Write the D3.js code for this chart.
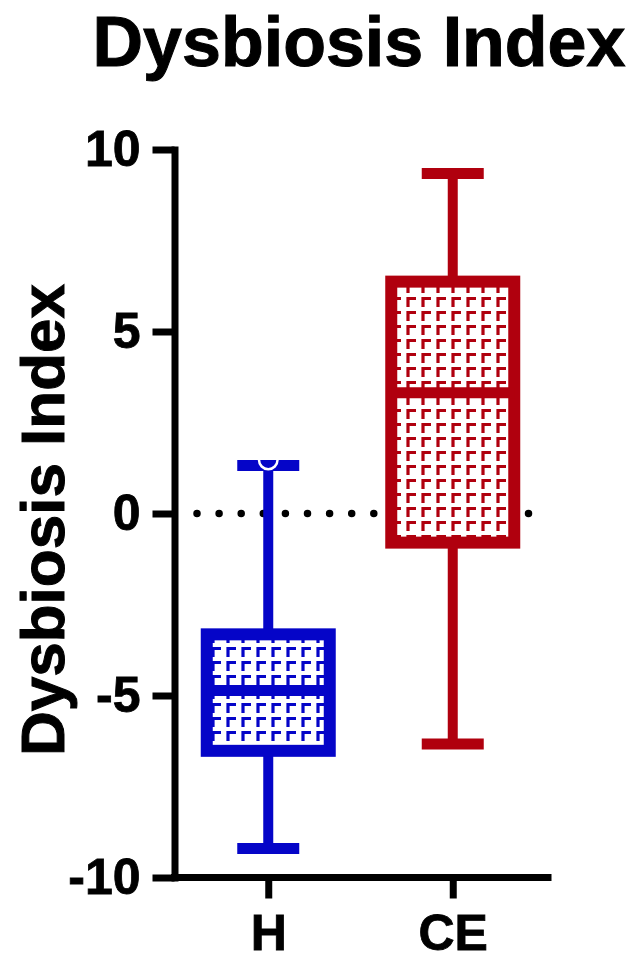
<!DOCTYPE html>
<html>
<head>
<meta charset="utf-8">
<script src="https://cdn.jsdelivr.net/npm/d3@7"></script>
<style>
  body { margin: 0; background: #fff; }
  text { font-family: "Liberation Sans", Arial, sans-serif; font-weight: bold; fill: #000; }
</style>
</head>
<body>
<div id="container"></div>
<script>
var w = 641,
  h = 961;

// data
var groups = ["H", "CE"];
var mins = [-9.2, -6.33];
var q1s = [-6.52, -0.8];
var medians = [-4.86, 3.32];
var q3s = [-3.32, 6.37];
var maxs = [1.32, 9.34];
var colors = ["#0505c8", "#b0000e"];
var yTicks = [-10, -5, 0, 5, 10];

var svg = d3.select("#container").append("svg")
  .attr("width", w)
  .attr("height", h);

var y = d3.scaleLinear()
  .domain([-10, 10])
  .range([877.5, 149.5]);

var x = d3.scalePoint()
  .domain(groups)
  .range([176, 545])
  .padding(0.5);

// hatch patterns (little corner marks)
var defs = svg.append("defs");
colors.forEach(function (c, i) {
  var p = defs.append("pattern")
    .attr("id", "hatch" + i)
    .attr("patternUnits", "userSpaceOnUse")
    .attr("width", 15)
    .attr("height", 14);
  p.append("rect").attr("width", 15).attr("height", 14).attr("fill", "#fff");
  p.append("path")
    .attr("d", "M3,13V4.5H11")
    .attr("fill", "none")
    .attr("stroke", c)
    .attr("stroke-width", 3.2);
});

// dotted zero line
svg.append("line")
  .attr("x1", 197).attr("x2", 530)
  .attr("y1", y(0)).attr("y2", y(0))
  .attr("stroke", "#000")
  .attr("stroke-width", 7.5)
  .attr("stroke-linecap", "round")
  .attr("stroke-dasharray", "0 22.1");

var boxW = 123,
  capW = 62;

var g = svg.selectAll(".box")
  .data(groups)
  .enter()
  .append("g")
  .attr("class", "box");

// whisker stems
g.append("line")
  .attr("x1", d => x(d)).attr("x2", d => x(d))
  .attr("y1", (d, i) => y(maxs[i]))
  .attr("y2", (d, i) => y(mins[i]))
  .attr("stroke", (d, i) => colors[i])
  .attr("stroke-width", 10);

// caps
[maxs, mins].forEach(function (arr) {
  g.append("line")
    .attr("x1", d => x(d) - capW / 2)
    .attr("x2", d => x(d) + capW / 2)
    .attr("y1", (d, i) => y(arr[i]))
    .attr("y2", (d, i) => y(arr[i]))
    .attr("stroke", (d, i) => colors[i])
    .attr("stroke-width", 11);
});

// boxes
g.append("rect")
  .attr("x", d => x(d) - boxW / 2)
  .attr("width", boxW)
  .attr("y", (d, i) => y(q3s[i]))
  .attr("height", (d, i) => y(q1s[i]) - y(q3s[i]))
  .attr("fill", (d, i) => "url(#hatch" + i + ")")
  .attr("stroke", (d, i) => colors[i])
  .attr("stroke-width", 12);

// medians
g.append("line")
  .attr("x1", d => x(d) - boxW / 2)
  .attr("x2", d => x(d) + boxW / 2)
  .attr("y1", (d, i) => y(medians[i]))
  .attr("y2", (d, i) => y(medians[i]))
  .attr("stroke", (d, i) => colors[i])
  .attr("stroke-width", 11);

// small half-circle notch at top of H whisker
svg.append("path")
  .attr("d", d3.arc()({ innerRadius: 8, outerRadius: 10.5, startAngle: Math.PI / 2, endAngle: Math.PI * 1.5 }))
  .attr("transform", "translate(" + x("H") + "," + (y(maxs[0]) - 5.5) + ")")
  .attr("fill", "#fff");

// axes
var yAxis = svg.append("g")
  .attr("transform", "translate(174.5,0)")
  .call(d3.axisLeft(y).tickValues(yTicks).tickSize(22).tickSizeOuter(0).tickPadding(12)
    .tickFormat(d => String(d)));

var xAxis = svg.append("g")
  .attr("transform", "translate(0," + y(-10) + ")")
  .call(d3.axisBottom(x).tickSize(21).tickSizeOuter(0).tickPadding(16));

xAxis.select(".domain").attr("d", "M174.5,0H548");

[yAxis, xAxis].forEach(function (a) {
  a.select(".domain")
    .attr("stroke", "#000")
    .attr("stroke-width", 7)
    .attr("stroke-linecap", "square");
  a.selectAll(".tick line")
    .attr("stroke", "#000")
    .attr("stroke-width", 7);
  a.selectAll(".tick text")
    .attr("fill", "#000")
    .attr("stroke", "#000")
    .attr("stroke-width", 0.8)
    .style("font-family", "'Liberation Sans', Arial, sans-serif")
    .style("font-weight", "bold")
    .style("font-size", "50px");
});

// title and axis label
svg.append("text")
  .attr("x", 359)
  .attr("y", 66)
  .attr("text-anchor", "middle")
  .attr("stroke", "#000")
  .attr("stroke-width", 1)
  .style("font-size", "70px")
  .text("Dysbiosis Index");

svg.append("text")
  .attr("transform", "translate(64,520) rotate(-90)")
  .attr("text-anchor", "middle")
  .attr("stroke", "#000")
  .attr("stroke-width", 1)
  .style("font-size", "62px")
  .text("Dysbiosis Index");
</script>
</body>
</html>
